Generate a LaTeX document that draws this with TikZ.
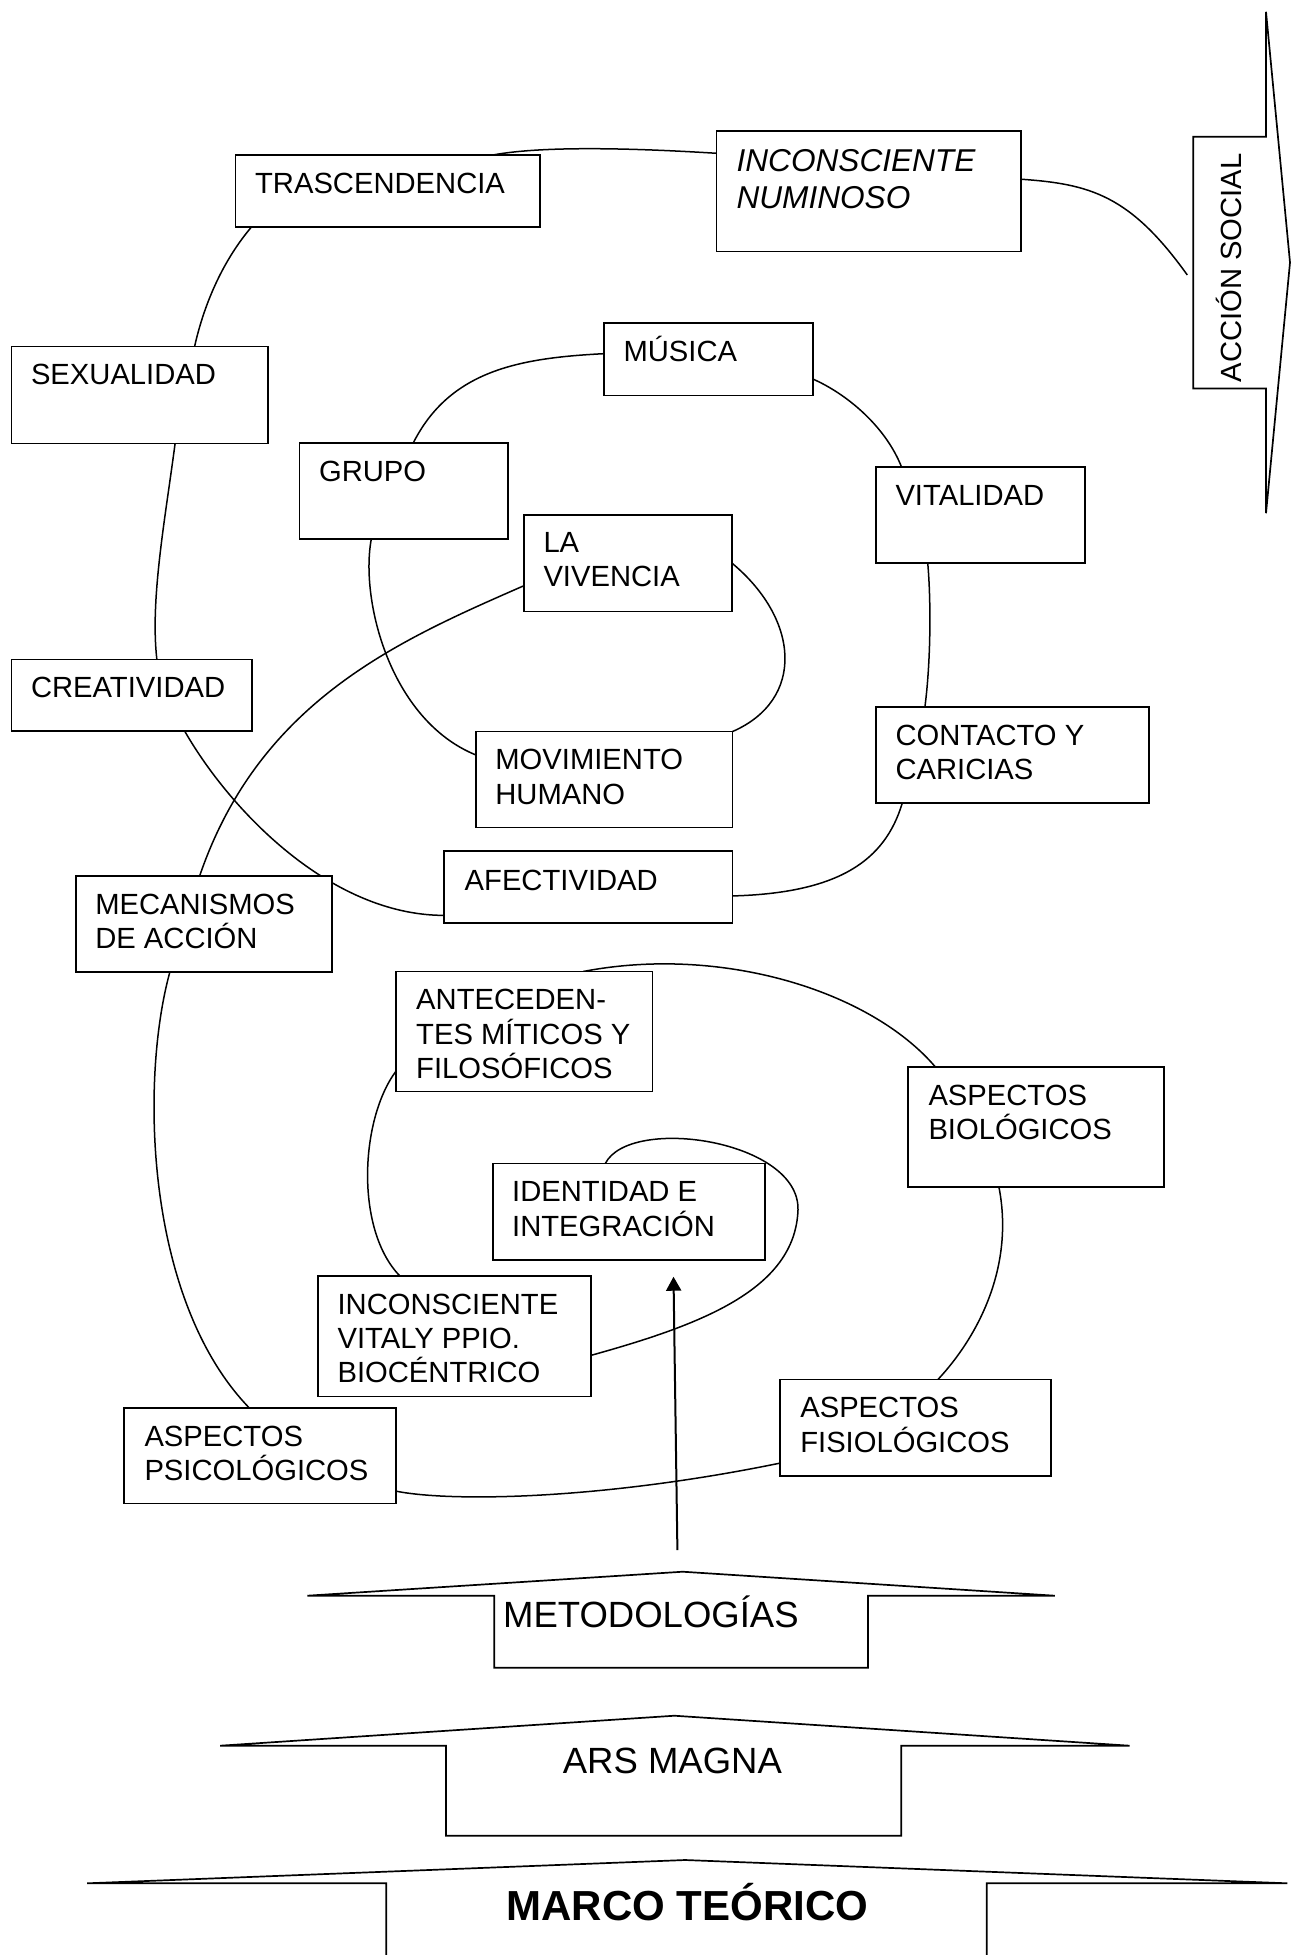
\documentclass[tikz,border=0pt]{standalone}
\usepackage{fontspec}
\setmainfont{Liberation Sans}
\usetikzlibrary{calc,arrows.meta}
\pgfdeclarelayer{bg}
\pgfsetlayers{bg,main}
\newcommand{\capstrut}{\rule{0pt}{30pt}}
\begin{document}
\begin{tikzpicture}[x=1pt,y=-1pt,
  box/.style={draw, fill=white, line width=1.7pt, inner sep=0pt, outer sep=0pt, anchor=north west},
  lbl/.style={inner sep=0pt, outer sep=0pt, anchor=north west, align=left, font=\fontsize{29.2pt}{34.2pt}\selectfont},
  conn/.style={line width=1.5pt},
  blockarrow/.style={line width=1.7pt, line join=miter}]
\useasboundingbox (0,0) rectangle (1302,1955);

% ---------- boxes ----------
\node[box, minimum width=304.2pt, minimum height=71.7pt]  (tras) at (235.6,155) {};
\node[box, minimum width=304.2pt, minimum height=120.5pt] (numi) at (716.6,131) {};
\node[box, minimum width=256.4pt, minimum height=97pt]    (sexu) at (11.5,346.6) {};
\node[box, minimum width=208.7pt, minimum height=72.3pt]  (musi) at (604,323.3) {};
\node[box, minimum width=208.3pt, minimum height=96.1pt]  (grup) at (299.6,443.2) {};
\node[box, minimum width=208.7pt, minimum height=96pt]    (vita) at (876,467.3) {};
\node[box, minimum width=208.3pt, minimum height=96.4pt]  (vive) at (524,515.2) {};
\node[box, minimum width=240.7pt, minimum height=71.7pt]  (crea) at (11.5,659.6) {};
\node[box, minimum width=273pt,   minimum height=96pt]    (cont) at (876,707.3) {};
\node[box, minimum width=256.5pt, minimum height=95.8pt]  (movi) at (475.9,731.6) {};
\node[box, minimum width=288.7pt, minimum height=72pt]    (afec) at (443.7,851.3) {};
\node[box, minimum width=256.5pt, minimum height=95.9pt]  (meca) at (75.8,875.8) {};
\node[box, minimum width=256.8pt, minimum height=120.1pt] (ante) at (395.7,971.5) {};
\node[box, minimum width=256.3pt, minimum height=120pt]   (biol) at (908,1067.3) {};
\node[box, minimum width=272.6pt, minimum height=96.5pt]  (iden) at (492.7,1163.5) {};
\node[box, minimum width=272.7pt, minimum height=120.5pt] (ivit) at (318.1,1276) {};
\node[box, minimum width=272.1pt, minimum height=95.8pt]  (psic) at (124,1407.8) {};
\node[box, minimum width=271.5pt, minimum height=96.6pt]  (fisi) at (779.8,1379.6) {};

% ---------- labels ----------
\node[lbl] (tras-t) at ([shift={(19.5,8.3)}]tras.north west) {\capstrut TRASCENDENCIA};
\node[lbl, font=\fontsize{31.6pt}{36.6pt}\selectfont\itshape] (numi-t) at ([shift={(20,8.7)}]numi.north west) {\rule{0pt}{32pt}INCONSCIENTE\\NUMINOSO};
\node[lbl] (sexu-t) at ([shift={(19.5,8.3)}]sexu.north west) {\capstrut SEXUALIDAD};
\node[lbl] (musi-t) at ([shift={(19.5,8.3)}]musi.north west) {\capstrut MÚSICA};
\node[lbl] (grup-t) at ([shift={(19.5,8.3)}]grup.north west) {\capstrut GRUPO};
\node[lbl] (vita-t) at ([shift={(19.5,8.3)}]vita.north west) {\capstrut VITALIDAD};
\node[lbl] (vive-t) at ([shift={(19.5,7.3)}]vive.north west) {\capstrut LA\\VIVENCIA};
\node[lbl] (crea-t) at ([shift={(19.5,8.3)}]crea.north west) {\capstrut CREATIVIDAD};
\node[lbl] (cont-t) at ([shift={(19.5,8.3)}]cont.north west) {\capstrut CONTACTO Y\\CARICIAS};
\node[lbl] (movi-t) at ([shift={(19.5,8.3)}]movi.north west) {\capstrut MOVIMIENTO\\HUMANO};
\node[lbl] (afec-t) at ([shift={(21,9.5)}]afec.north west) {\capstrut AFECTIVIDAD};
\node[lbl] (meca-t) at ([shift={(19.5,8.3)}]meca.north west) {\capstrut MECANISMOS\\DE ACCIÓN};
\node[lbl] (ante-t) at ([shift={(20.5,8.3)}]ante.north west) {\capstrut ANTECEDEN-\\TES MÍTICOS Y\\FILOSÓFICOS};
\node[lbl] (biol-t) at ([shift={(20.5,8.3)}]biol.north west) {\capstrut ASPECTOS\\BIOLÓGICOS};
\node[lbl] (iden-t) at ([shift={(19.5,8.3)}]iden.north west) {\capstrut IDENTIDAD E\\INTEGRACIÓN};
\node[lbl] (ivit-t) at ([shift={(19.5,8.3)}]ivit.north west) {\capstrut INCONSCIENTE\\VITALY PPIO.\\BIOCÉNTRICO};
\node[lbl] (psic-t) at ([shift={(20.5,8.3)}]psic.north west) {\capstrut ASPECTOS\\PSICOLÓGICOS};
\node[lbl] (fisi-t) at ([shift={(20.5,8.3)}]fisi.north west) {\capstrut ASPECTOS\\FISIOLÓGICOS};

% ---------- connectors (behind the boxes) ----------
\coordinate (accEnd) at (1187.3,275);
\coordinate (loopR) at (798,1210);
\begin{pgfonlayer}{bg}
\draw[conn] ($(tras.north west)!0.846!(tras.north east)$) .. controls (530,148) and (600,146) .. ($(numi.north west)!0.185!(numi.south west)$);
\draw[conn] ($(numi.north east)!0.40!(numi.south east)$) .. controls (1090,184) and (1130,195) .. (accEnd);
\draw[conn] ($(tras.south west)!0.053!(tras.south east)$) .. controls (225,258) and (205,300) .. ($(sexu.north west)!0.714!(sexu.north east)$);
\draw[conn] ($(sexu.south west)!0.638!(sexu.south east)$) .. controls (165,520) and (150,600) .. ($(crea.north west)!0.604!(crea.north east)$);
\draw[conn] ($(crea.south west)!0.72!(crea.south east)$) .. controls (230,810) and (330,915) .. ($(afec.north west)!0.89!(afec.south west)$);
\draw[conn] ($(vive.north west)!0.731!(vive.south west)$) .. controls (400,640) and (260,700) .. ($(meca.north west)!0.483!(meca.north east)$);
\draw[conn] ($(musi.north west)!0.42!(musi.south west)$) .. controls (520,358) and (450,370) .. ($(grup.north west)!0.545!(grup.north east)$);
\draw[conn] ($(grup.south west)!0.344!(grup.south east)$) .. controls (360,600) and (390,720) .. ($(movi.north west)!0.244!(movi.south west)$);
\draw[conn] ($(vive.north east)!0.5!(vive.south east)$) .. controls (800,620) and (805,700) .. (movi.north east);
\draw[conn] ($(musi.north east)!0.77!(musi.south east)$) .. controls (845,393) and (885,425) .. ($(vita.north west)!0.123!(vita.north east)$);
\draw[conn] ($(vita.south west)!0.248!(vita.south east)$) .. controls (931,600) and (931,660) .. ($(cont.north west)!0.179!(cont.north east)$);
\draw[conn] ($(cont.south west)!0.096!(cont.south east)$) .. controls (885,860) and (840,893) .. ($(afec.north east)!0.62!(afec.south east)$);
\draw[conn] ($(meca.south west)!0.367!(meca.south east)$) .. controls (140,1080) and (145,1300) .. ($(psic.north west)!0.46!(psic.north east)$);
\draw[conn] ($(psic.north east)!0.87!(psic.south east)$) .. controls (450,1502) and (600,1500) .. ($(fisi.north west)!0.865!(fisi.south west)$);
\draw[conn] ($(fisi.north west)!0.582!(fisi.north east)$) .. controls (975,1340) and (1015,1270) .. ($(biol.south west)!0.355!(biol.south east)$);
\draw[conn] ($(biol.north west)!0.108!(biol.north east)$) .. controls (870,990) and (720,945) .. ($(ante.north west)!0.73!(ante.north east)$);
\draw[conn] ($(ante.north west)!0.833!(ante.south west)$) .. controls (360,1120) and (355,1230) .. ($(ivit.north west)!0.30!(ivit.north east)$);
\draw[conn] ($(ivit.north east)!0.659!(ivit.south east)$) .. controls (700,1325) and (795,1290) .. (loopR)
   .. controls (800,1140) and (630,1115) .. ($(iden.north west)!0.413!(iden.north east)$);
\end{pgfonlayer}

% ---------- ACCION SOCIAL block arrow ----------
\draw[blockarrow] (1193.3,136.7) -- (1266,136.7) -- (1266,11.8) -- (1290,262.5) -- (1266,513.2) -- (1266,388.5) -- (1193.3,388.5) -- cycle;
\node[rotate=90, anchor=base east, inner sep=0pt, font=\fontsize{29.2pt}{34.2pt}\selectfont] (acc-t) at (1241,153.3) {ACCIÓN SOCIAL};

% ---------- bottom block arrows ----------
\draw[blockarrow] (494.2,1595.7) -- (307.3,1595.7) -- (682.7,1571.7) -- (1054.8,1595.7) -- (868,1595.7) -- (868,1667.7) -- (494.2,1667.7) -- cycle;
\node[anchor=base west, inner sep=0pt, font=\fontsize{36.5pt}{40pt}\selectfont] (meto-t) at (503,1627.3) {METODOLOGÍAS};

\draw[blockarrow] (446,1745.7) -- (220.1,1745.7) -- (674.4,1715.7) -- (1129.6,1745.7) -- (901.2,1745.7) -- (901.2,1835.7) -- (446,1835.7) -- cycle;
\node[anchor=base, inner sep=0pt, font=\fontsize{36.5pt}{40pt}\selectfont] (ars-t) at (672.4,1773.3) {ARS MAGNA};

\draw[blockarrow] (386.2,1965) -- (386.2,1883.3) -- (87.2,1883.3) -- (685.2,1860) -- (1287.4,1883.3) -- (986.7,1883.3) -- (986.7,1965);
\node[anchor=base, inner sep=0pt, font=\fontsize{42pt}{46pt}\selectfont\bfseries] (marco-t) at (687.3,1920) {MARCO TEÓRICO};

% ---------- vertical arrow ----------
\coordinate (arrS) at (677.4,1550);
\coordinate (arrE) at (673.5,1276.7);
\draw[line width=2pt, -{Triangle[width=15pt,length=14pt]}] (arrS) -- (arrE);
\end{tikzpicture}
\end{document}
